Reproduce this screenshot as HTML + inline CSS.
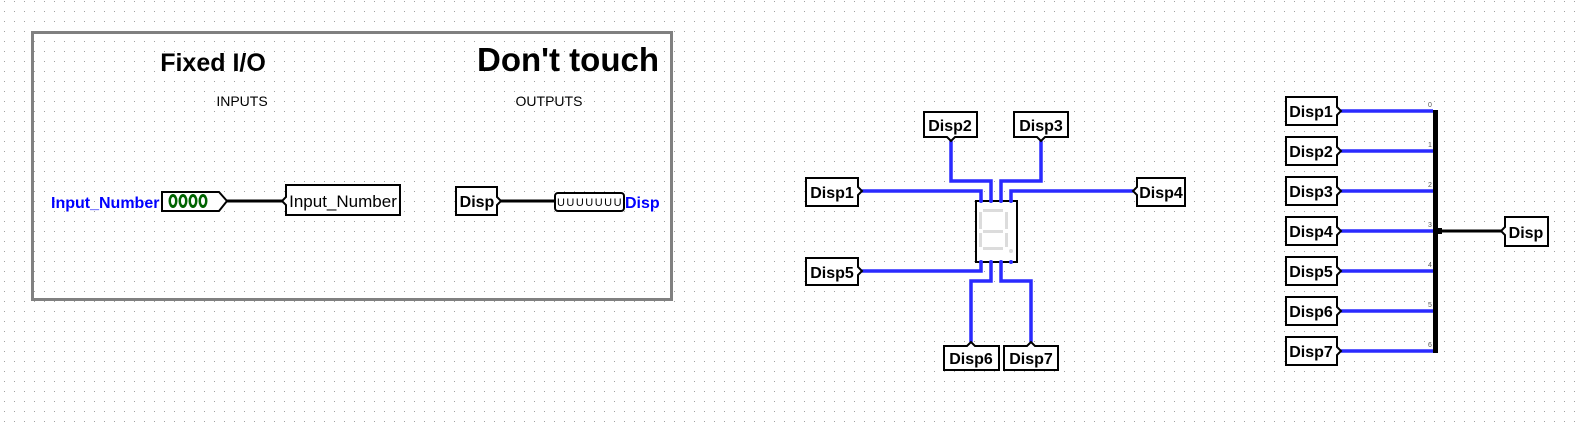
<!DOCTYPE html>
<html><head><meta charset="utf-8"><style>
html,body{margin:0;padding:0;background:#fff;}
svg{display:block;}
text{font-family:"Liberation Sans",sans-serif;}
</style></head><body>
<svg width="1582" height="428" xmlns="http://www.w3.org/2000/svg">
<defs>
<pattern id="g" x="4" y="1" width="10" height="10" patternUnits="userSpaceOnUse">
<rect x="0" y="0" width="1" height="1" fill="#a0a0a0"/>
</pattern>
</defs>
<rect width="1582" height="428" fill="url(#g)"/>

<rect x="32.5" y="32.5" width="639" height="267" fill="none" stroke="#808080" stroke-width="3"/>
<text x="213" y="71" font-size="25" font-weight="bold" text-anchor="middle">Fixed I/O</text>
<text x="568" y="71" font-size="33" font-weight="bold" text-anchor="middle">Don't touch</text>
<text x="242" y="106" font-size="14" text-anchor="middle">INPUTS</text>
<text x="549" y="106" font-size="14" text-anchor="middle">OUTPUTS</text>

<text x="51" y="208" font-size="16" font-weight="bold" fill="#0000ff">Input_Number</text>
<polygon points="162,192 219,192 227,201 219,211 162,211" fill="#fff" stroke="#000" stroke-width="2"/>
<g fill="#006400">
<ellipse cx="173" cy="201" rx="4.5" ry="7"/><ellipse cx="183" cy="201" rx="4.5" ry="7"/>
<ellipse cx="193" cy="201" rx="4.5" ry="7"/><ellipse cx="203" cy="201" rx="4.5" ry="7"/>
</g>
<g fill="#fff"><ellipse cx="173" cy="201" rx="2" ry="4"/><ellipse cx="183" cy="201" rx="2" ry="4"/><ellipse cx="193" cy="201" rx="2" ry="4"/><ellipse cx="203" cy="201" rx="2" ry="4"/></g>
<line x1="227" y1="201" x2="282" y2="201" stroke="#000" stroke-width="3"/>
<polygon points="286,185 400,185 400,215 286,215 286,205 282,201 286,197" fill="#fff" stroke="#000" stroke-width="2"/>
<text x="343" y="207" font-size="17" text-anchor="middle">Input_Number</text>

<polygon points="456,187 497,187 497,197 501,201 497,205 497,215 456,215" fill="#fff" stroke="#000" stroke-width="2"/>
<text x="477" y="207" font-size="16" font-weight="bold" text-anchor="middle">Disp</text>
<line x1="501" y1="201" x2="555" y2="201" stroke="#000" stroke-width="3"/>
<rect x="555" y="193" width="69" height="18" rx="3" fill="#fff" stroke="#000" stroke-width="2"/>
<text x="590" y="206" font-size="11" text-anchor="middle" letter-spacing="1.5">UUUUUUU</text>
<text x="625" y="208" font-size="16" font-weight="bold" fill="#0000ff">Disp</text>

<g stroke="#2a2aff" stroke-width="3.5" fill="none">
<path d="M862 191 H981 V201"/>
<path d="M951 141 V181 H991 V201"/>
<path d="M1041 141 V181 H1001 V201"/>
<path d="M1133 191 H1011 V201"/>
<path d="M862 271 H981 V262"/>
<path d="M971 342 V281 H991 V262"/>
<path d="M1031 342 V281 H1001 V262"/>
</g>
<rect x="976" y="201" width="41" height="61" fill="#fff" stroke="#000" stroke-width="2"/>
<g fill="#dcdcdc">
<rect x="983" y="209" width="20" height="3"/><rect x="983" y="230" width="20" height="3"/><rect x="983" y="247" width="20" height="3"/>
<rect x="979" y="212" width="3" height="17"/><rect x="979" y="233" width="3" height="14"/>
<rect x="1005" y="212" width="3" height="17"/><rect x="1005" y="233" width="3" height="14"/>
<circle cx="1011" cy="251" r="2"/>
</g>
<g fill="#2a2aff"><circle cx="981" cy="201" r="2"/><circle cx="991" cy="201" r="2"/><circle cx="1001" cy="201" r="2"/><circle cx="1011" cy="201" r="2"/>
<circle cx="981" cy="262" r="2"/><circle cx="991" cy="262" r="2"/><circle cx="1001" cy="262" r="2"/><circle cx="1011" cy="262" r="2"/></g>

<g fill="#fff" stroke="#000" stroke-width="2">
<polygon points="806,178 858,178 858,187 862,191 858,195 858,206 806,206"/>
<polygon points="806,258 858,258 858,267 862,271 858,275 858,285 806,285"/>
<polygon points="924,112 977,112 977,137 955,137 951,141 947,137 924,137"/>
<polygon points="1014,112 1068,112 1068,137 1045,137 1041,141 1037,137 1014,137"/>
<polygon points="1137,178 1185,178 1185,206 1137,206 1137,195 1133,191 1137,187"/>
<polygon points="944,346 967,346 971,342 975,346 999,346 999,370 944,370"/>
<polygon points="1004,346 1027,346 1031,342 1035,346 1058,346 1058,370 1004,370"/>
</g>
<g font-size="16" font-weight="bold" text-anchor="middle">
<text x="832" y="198">Disp1</text>
<text x="832" y="278">Disp5</text>
<text x="950" y="131">Disp2</text>
<text x="1041" y="131">Disp3</text>
<text x="1161" y="198">Disp4</text>
<text x="971" y="364">Disp6</text>
<text x="1031" y="364">Disp7</text>
</g>

<g stroke="#2a2aff" stroke-width="3.5">
<line x1="1341" y1="111" x2="1433" y2="111"/><line x1="1341" y1="151" x2="1433" y2="151"/>
<line x1="1341" y1="191" x2="1433" y2="191"/><line x1="1341" y1="231" x2="1433" y2="231"/>
<line x1="1341" y1="271" x2="1433" y2="271"/><line x1="1341" y1="311" x2="1433" y2="311"/>
<line x1="1341" y1="351" x2="1433" y2="351"/>
</g>
<rect x="1433" y="110" width="5" height="243" fill="#000"/>
<rect x="1436" y="228" width="6" height="6" fill="#000"/>
<line x1="1438" y1="231" x2="1501" y2="231" stroke="#000" stroke-width="3"/>
<g font-size="7" fill="#555" text-anchor="middle">
<text x="1430" y="107">0</text><text x="1430" y="147">1</text><text x="1430" y="187">2</text><text x="1430" y="227">3</text><text x="1430" y="267">4</text><text x="1430" y="307">5</text><text x="1430" y="347">6</text>
</g>
<g fill="#fff" stroke="#000" stroke-width="2">
<polygon points="1286,97 1337,97 1337,107 1341,111 1337,115 1337,125 1286,125"/>
<polygon points="1286,137 1337,137 1337,147 1341,151 1337,155 1337,165 1286,165"/>
<polygon points="1286,177 1337,177 1337,187 1341,191 1337,195 1337,205 1286,205"/>
<polygon points="1286,217 1337,217 1337,227 1341,231 1337,235 1337,245 1286,245"/>
<polygon points="1286,257 1337,257 1337,267 1341,271 1337,275 1337,285 1286,285"/>
<polygon points="1286,297 1337,297 1337,307 1341,311 1337,315 1337,325 1286,325"/>
<polygon points="1286,337 1337,337 1337,347 1341,351 1337,355 1337,365 1286,365"/>
<polygon points="1505,217 1548,217 1548,246 1505,246 1505,235 1501,231 1505,227"/>
</g>
<g font-size="16" font-weight="bold" text-anchor="middle">
<text x="1311" y="117">Disp1</text><text x="1311" y="157">Disp2</text><text x="1311" y="197">Disp3</text>
<text x="1311" y="237">Disp4</text><text x="1311" y="277">Disp5</text><text x="1311" y="317">Disp6</text>
<text x="1311" y="357">Disp7</text><text x="1526" y="238">Disp</text>
</g>
</svg>
</body></html>
